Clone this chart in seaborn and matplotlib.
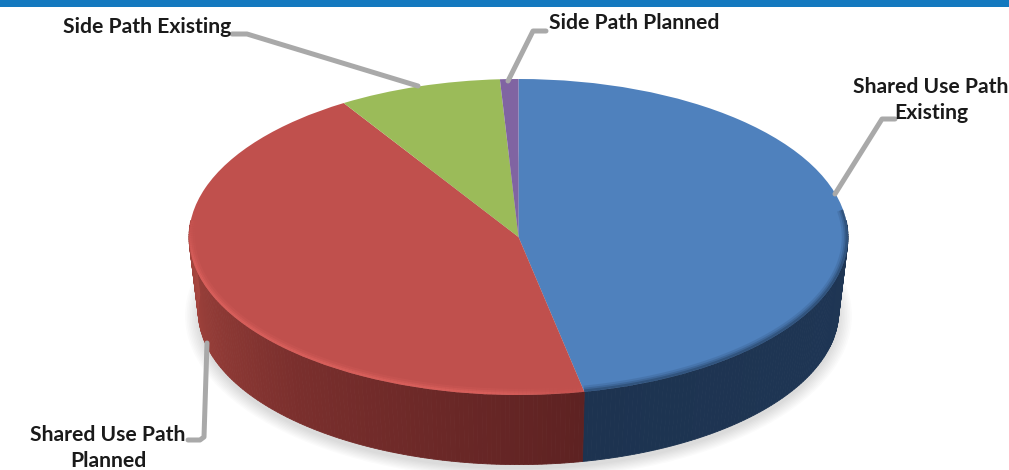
import numpy as np
import matplotlib
matplotlib.use("Agg")
import matplotlib.pyplot as plt
import seaborn as sns
from matplotlib.collections import LineCollection
from matplotlib.patches import Ellipse, Rectangle
from matplotlib.transforms import Affine2D

# Share of the network by facility type, in percent
categories = ["Shared Use Path\nExisting", "Shared Use Path\nPlanned", "Side Path Existing", "Side Path Planned"]
shares = [46.8, 44.3, 8.0, 0.9]
top_colors = ["#4F81BD", "#C0504D", "#9BBB59", "#8064A2"]
wall_shades = [["#1F3655", "#1E3553", "#1D3350"], ["#5E2222", "#7A2F2D", "#A6463F"], ["#6F8A40", "#6F8A40"], ["#5A4574", "#5A4574"]]

W, H = 1009, 470
CX, CY, RX, RY = 518.5, 237.0, 329.5, 158.0
BOTTOM_SCALE = 0.972
BOTTOM_DY = 74.0 / RY

sns.set_theme(style="white")
plt.rcParams["font.family"] = ["Lato", "DejaVu Sans"]

fig = plt.figure(figsize=(W / 100, H / 100), dpi=100)
ax = fig.add_axes([0, 0, 1, 1])
px = Affine2D().scale(1, -1).translate(0, H)

wedges, _ = ax.pie(shares, colors=top_colors, startangle=90, counterclock=False, radius=1,
                   wedgeprops={"linewidth": 0, "zorder": 5})
ax.set_aspect("auto")
ax.set_xlim(-CX / RX, (W - CX) / RX)
ax.set_ylim((CY - H) / RY, CY / RY)


def top_edge(clock):
    return np.sin(clock), np.cos(clock)


def bottom_edge(clock):
    return BOTTOM_SCALE * np.sin(clock), BOTTOM_SCALE * np.cos(clock) - BOTTOM_DY


# Soft drop shadow under the disc
for grow, alpha in zip(np.linspace(0.04, 0.0, 9), [0.014] * 9):
    ax.add_patch(Ellipse((0, -BOTTOM_DY - 0.03), 2 * (BOTTOM_SCALE + grow), 2 * (BOTTOM_SCALE + grow * 1.6),
                         facecolor="black", edgecolor="none", alpha=alpha, zorder=1))

# Side wall: narrow vertical strips shaded along each slice
bounds = np.cumsum([0] + shares) / sum(shares) * 2 * np.pi
for start, stop, shades in zip(bounds[:-1], bounds[1:], wall_shades):
    lo, hi = max(start, np.radians(84)), min(stop, np.radians(276))
    if lo >= hi:
        continue
    edges = np.linspace(lo, hi, int((hi - lo) * 70) + 2)
    ramp = sns.blend_palette(shades, n_colors=len(edges) - 1)
    for a, b, shade in zip(edges[:-1], edges[1:], ramp):
        tx, ty = top_edge(np.array([a, b]))
        bx, by = bottom_edge(np.array([b, a]))
        ax.fill(np.r_[tx, bx], np.r_[ty, by], facecolor=shade, edgecolor=shade, linewidth=0.6, zorder=2)

# Bevel along the front rim, kept inside the slices: light on red, dark on blue
red = np.linspace(bounds[1], np.radians(276), 160)
blue = np.linspace(np.radians(80), bounds[1], 160)
for width, alpha in [(9, 0.14), (6, 0.22), (3.5, 0.35)]:
    x, y = top_edge(red)
    pts = np.column_stack([x, y]).reshape(-1, 1, 2)
    segs = np.concatenate([pts[:-1], pts[1:]], axis=1)
    fade = np.clip(np.sin((red[:-1] - red[0]) / (red[-1] - red[0]) * np.pi) * 2.2, 0.25, 1)
    rgba = np.tile(matplotlib.colors.to_rgba("#EA6A66"), (len(segs), 1))
    rgba[:, 3] = alpha * fade
    rim = LineCollection(segs, colors=rgba, linewidths=width, zorder=6, capstyle="butt")
    ax.add_collection(rim)
    rim.set_clip_path(wedges[1])
    x, y = top_edge(blue)
    dark, = ax.plot(x, y, color="#1D3350", alpha=alpha, lw=width, zorder=6, solid_capstyle="butt")
    dark.set_clip_path(wedges[0])

# Bar across the top of the page
ax.add_patch(Rectangle((0, 0), W, 7, transform=px, facecolor="#1479BF", edgecolor="none", zorder=10))

# Leader lines and category labels
leaders = [
    [(895, 119), (882, 119), (835, 194)],
    [(188, 440), (200, 440), (204, 437), (207, 343)],
    [(232, 34), (247, 34), (418, 86)],
    [(546, 31), (533, 31), (508, 81)],
]
label_spots = [(931, 100), (108, 448), (147, 27), (634, 23)]
for name, path, spot in zip(categories, leaders, label_spots):
    xs, ys = zip(*path)
    ax.plot(xs, ys, transform=px, color="#A9A9A9", lw=3.6, zorder=7, solid_joinstyle="round", clip_on=False)
    ax.text(spot[0], spot[1], name, transform=px, ha="center", va="center", ma="center",
            fontsize=15.2, fontweight="bold", color="#1A1A1A", linespacing=1.42, zorder=8)

ax.axis("off")
fig.savefig("out.png", dpi=100, facecolor="white")
